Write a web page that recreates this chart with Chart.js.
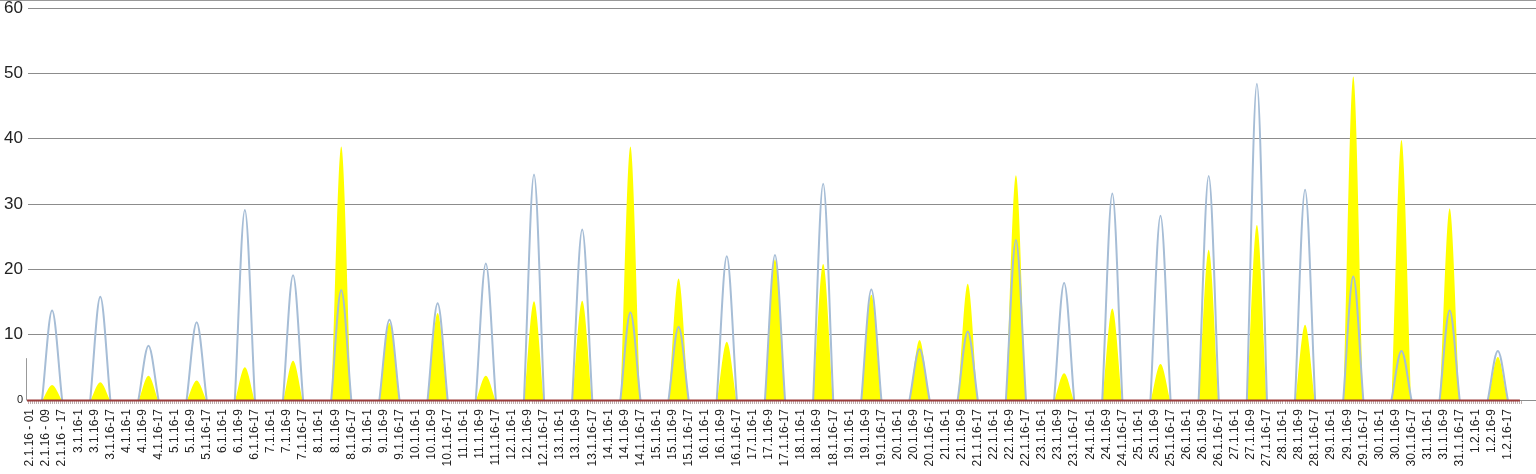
<!DOCTYPE html>
<html>
<head>
<meta charset="utf-8">
<script src="https://cdn.jsdelivr.net/npm/chart.js@4.4.0/dist/chart.umd.min.js"></script>
<style>
html,body{margin:0;padding:0;background:#fff;overflow:hidden;}
</style>
</head>
<body>
<canvas id="c" width="1536" height="474"></canvas>
<script>
// one peak per day
const days = ['2.1.16','3.1.16','4.1.16','5.1.16','6.1.16','7.1.16','8.1.16','9.1.16','10.1.16','11.1.16',
  '12.1.16','13.1.16','14.1.16','15.1.16','16.1.16','17.1.16','18.1.16','19.1.16','20.1.16','21.1.16',
  '22.1.16','23.1.16','24.1.16','25.1.16','26.1.16','27.1.16','28.1.16','29.1.16','30.1.16','31.1.16','1.2.16'];
const labelHours = ['1','9','17'];
const tickLabels = ['2.1.16 - 01','2.1.16 - 09','2.1.16 - 17']
  .concat(days.slice(1).flatMap(d => labelHours.map(h => d + '-' + h)));
const blueValues = [13.7,15.8,8.3,11.9,29.1,19.1,16.8,12.3,14.8,20.9,34.5,26.1,13.4,11.2,22.0,
  22.2,33.1,16.9,7.8,10.5,24.5,17.9,31.6,28.2,34.3,48.4,32.2,18.9,7.5,13.7,7.5];
const yellowValues = [2.3,2.7,3.7,3.0,5.0,6.0,38.8,11.8,13.3,3.7,15.1,15.2,38.8,18.6,8.9,
  21.5,20.8,16.1,9.2,17.8,34.4,4.1,14.0,5.5,23.0,26.8,11.5,49.5,39.8,29.3,6.6];

const HOURS = days.length * 24;
const blueData = [], yellowData = [];
days.forEach((d, i) => {
  const t = i * 24;
  blueData.push({x:t+7,y:0},{x:t+12,y:blueValues[i]},{x:t+17,y:0},{x:t+17.5,y:null});
  yellowData.push({x:t+7.2,y:0},{x:t+12,y:yellowValues[i]},{x:t+16.8,y:0},{x:t+17,y:null});
});

const axisLine = {
  id: 'axisLine',
  afterDatasetsDraw(chart) {
    const {ctx, scales:{x, y}} = chart;
    const y0 = Math.round(y.getPixelForValue(0)) + 0.5;
    ctx.save();
    ctx.strokeStyle = '#9a3b3b';
    ctx.lineWidth = 2;
    ctx.beginPath();
    ctx.moveTo(x.getPixelForValue(0) - 1, y0);
    ctx.lineTo(x.getPixelForValue(HOURS - 1), y0);
    ctx.stroke();
    // frame bits at the top and left
    ctx.strokeStyle = '#999';
    ctx.lineWidth = 1;
    ctx.beginPath();
    ctx.moveTo(0, 0.5); ctx.lineTo(1536, 0.5);
    ctx.moveTo(26.5, y.getPixelForValue(6.4)); ctx.lineTo(26.5, y0);
    ctx.stroke();
    ctx.restore();
  }
};

new Chart(document.getElementById('c'), {
  type: 'line',
  data: { datasets: [
    { data: blueData, borderColor:'#a6bdd6', borderWidth:2, pointRadius:0,
      cubicInterpolationMode:'monotone', spanGaps:false, fill:false, order:0 },
    { data: yellowData, borderWidth:0, borderColor:'#ffff00', backgroundColor:'#ffff00',
      pointRadius:0, cubicInterpolationMode:'monotone', spanGaps:false, fill:'origin', order:1 }
  ]},
  options: {
    responsive:false, animation:false, devicePixelRatio:1,
    layout: { padding: 0 },
    plugins: { legend:{ display:false }, tooltip:{ enabled:false } },
    scales: {
      x: {
        type:'linear', min:0, max:751,
        afterBuildTicks: s => { s.ticks = Array.from({length: HOURS + 1}, (_, h) => ({ value: h })); },
        afterFit: s => { s.height = 74; s.paddingLeft = 0; s.paddingRight = 0; },
        ticks: {
          autoSkip:false, minRotation:90, maxRotation:90, padding:5, color:'#222',
          font:{ family:'Liberation Sans, Arial', size:12 },
          callback: v => (v - 1) % 8 === 0 ? tickLabels[(v - 1) / 8] : ''
        },
        grid: { drawOnChartArea:false, tickLength:4, color:'#bfb0b0' },
        border: { display:false }
      },
      y: {
        min:0, max:60,
        afterFit: s => { s.width = 28; s.paddingTop = 8; s.paddingBottom = 0; },
        ticks: {
          stepSize:10, padding:5, color:'#222',
          font: c => c.tick && c.tick.value === 0
            ? { family:'Liberation Sans, Arial', size:11, lineHeight:1 }
            : { family:'Liberation Sans, Arial', size:17, lineHeight:1 }
        },
        grid: { color:'#8c8c8c', lineWidth:1, drawTicks:false },
        border: { display:false }
      }
    }
  },
  plugins: [axisLine]
});
</script>
</body>
</html>
